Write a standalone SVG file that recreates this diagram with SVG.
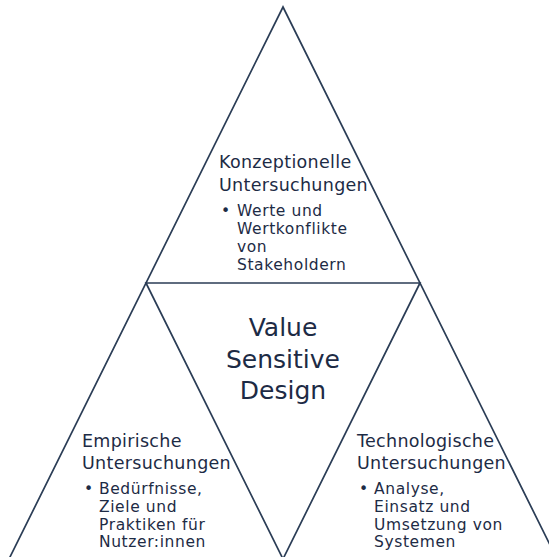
<svg xmlns="http://www.w3.org/2000/svg" width="549" height="557" viewBox="0 0 549 557">
<style>
.ln{fill:none;stroke:#2b3d56;stroke-width:1.7;stroke-linejoin:miter}
.t{font-family:"DejaVu Sans","Liberation Sans",sans-serif;fill:#1d2b45}
.h{font-size:17.5px;letter-spacing:0.3px}
.b{font-size:15.5px;letter-spacing:0.6px}
.c{font-size:25px;text-anchor:middle}
</style>
<rect width="549" height="557" fill="#ffffff"/>
<g id="connectors">
<polygon class="ln" points="283,7 557,559 9,559"/>
<polygon class="ln" points="146,283 420,283 283,559"/>
</g>
<g id="node-konzeptionelle">
<text class="t h" x="219" y="168">Konzeptionelle</text>
<text class="t h" x="219" y="191">Untersuchungen</text>
<text class="t b" x="221" y="216">•</text>
<text class="t b" x="237" y="216">Werte und</text>
<text class="t b" x="237" y="234">Wertkonflikte</text>
<text class="t b" x="237" y="252">von</text>
<text class="t b" x="237" y="270">Stakeholdern</text>
</g>
<g id="node-vsd">
<text class="t c" x="283" y="336">Value</text>
<text class="t c" x="283" y="368">Sensitive</text>
<text class="t c" x="283" y="399">Design</text>
</g>
<g id="node-empirische">
<text class="t h" x="82" y="447">Empirische</text>
<text class="t h" x="82" y="469">Untersuchungen</text>
<text class="t b" x="84" y="494">•</text>
<text class="t b" x="99" y="494">Bedürfnisse,</text>
<text class="t b" x="99" y="512">Ziele und</text>
<text class="t b" x="99" y="530">Praktiken für</text>
<text class="t b" x="99" y="547">Nutzer:innen</text>
</g>
<g id="node-technologische">
<text class="t h" x="357" y="447">Technologische</text>
<text class="t h" x="357" y="469">Untersuchungen</text>
<text class="t b" x="359" y="494">•</text>
<text class="t b" x="374" y="494">Analyse,</text>
<text class="t b" x="374" y="512">Einsatz und</text>
<text class="t b" x="374" y="530">Umsetzung von</text>
<text class="t b" x="374" y="547">Systemen</text>
</g>
</svg>
